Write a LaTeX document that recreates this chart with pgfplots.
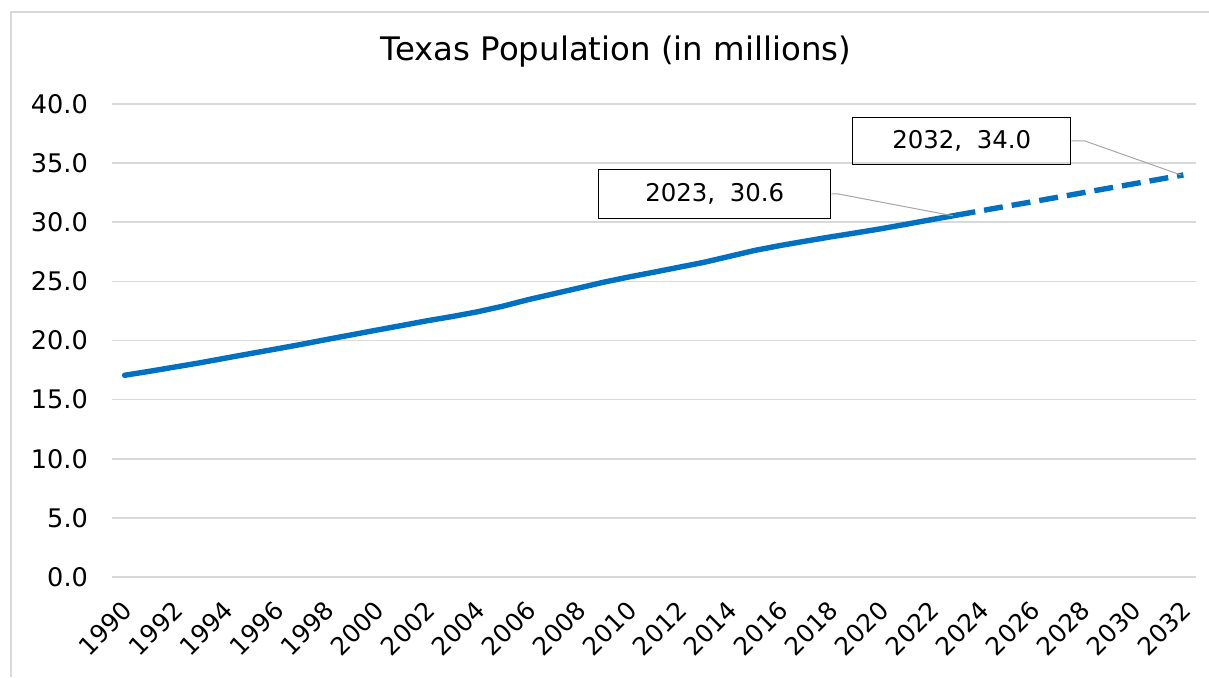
\documentclass[border=0pt]{standalone}
\usepackage{pgfplots}
\pgfplotsset{compat=1.18}
\usepackage{pgfplotstable}
\usepackage{fontspec}
\setmainfont{DejaVu Sans}
\definecolor{texblue}{RGB}{0,112,192}
\definecolor{gridgray}{RGB}{217,217,217}

\pgfplotstableread{
year pop
1990 17.06
1991 17.40
1992 17.76
1993 18.12
1994 18.51
1995 18.90
1996 19.28
1997 19.67
1998 20.08
1999 20.48
2000 20.88
2001 21.27
2002 21.67
2003 22.03
2004 22.43
2005 22.90
2006 23.45
2007 23.94
2008 24.43
2009 24.93
2010 25.37
2011 25.78
2012 26.20
2013 26.62
2014 27.12
2015 27.62
2016 28.03
2017 28.40
2018 28.76
2019 29.10
2020 29.45
2021 29.83
2022 30.22
2023 30.60
}\actual

\pgfplotstableread{
year pop
2023 30.60
2024 30.98
2025 31.36
2026 31.73
2027 32.11
2028 32.49
2029 32.87
2030 33.24
2031 33.62
2032 34.00
}\projected

\begin{document}
\begin{tikzpicture}
\useasboundingbox (0,0) rectangle (604.5pt,338.5pt);
\draw[gridgray, line width=0.8pt] (5.5pt,0) -- (5.5pt,332.5pt) -- (604.5pt,332.5pt);
\begin{axis}[
  at={(56pt,50pt)}, anchor=south west,
  scale only axis,
  width=542pt, height=236.5pt,
  xmin=1989.5, xmax=2032.5,
  ymin=0, ymax=40,
  xtick={1990,1992,...,2032},
  ytick={0,5,...,40},
  axis line style={draw=none},
  tick style={draw=none},
  ymajorgrids,
  major grid style={gridgray, line width=0.8pt},
  /pgf/number format/assume math mode=true,
  xticklabel style={xshift=4pt, yshift=-12pt, rotate=45, anchor=east, font=\fontsize{12.4pt}{14pt}\selectfont},
  yticklabel style={font=\fontsize{12.8pt}{15pt}\selectfont, /pgf/number format/fixed, /pgf/number format/fixed zerofill, /pgf/number format/precision=1, xshift=-8.5pt},
  xticklabel={\pgfmathprintnumber[1000 sep={}]{\tick}},
  clip=false,
]
\addplot[texblue, line width=2.7pt, line cap=round, line join=round] table[x=year, y=pop] {\actual};
\addplot[texblue, line width=2.7pt, dash pattern=on 9.5pt off 4.5pt, line join=round] table[x=year, y=pop] {\projected};
\coordinate (p1) at (axis cs:2022.85,30.55);
\coordinate (p2) at (axis cs:2031.9,34.0);
\end{axis}
\node[font=\fontsize{16.2pt}{19pt}\selectfont] at (308pt,312.5pt) {Texas Population (in millions)};
\node[draw=black, line width=0.7pt, minimum width=116pt, minimum height=24.5pt, anchor=south west, inner sep=0pt, font=\fontsize{12.2pt}{14pt}\selectfont] (b1) at (299pt,229pt) {2023,\hspace{0.6em}30.6};
\node[draw=black, line width=0.7pt, minimum width=109pt, minimum height=23.5pt, anchor=south west, inner sep=0pt, font=\fontsize{12.2pt}{14pt}\selectfont] (b2) at (426pt,256pt) {2032,\hspace{0.6em}34.0};
\draw[gray!70, line width=0.5pt] (b1.east) -- ++(3pt,0) -- (p1);
\draw[gray!70, line width=0.5pt] (b2.east) -- ++(6.5pt,0) -- (p2);
\end{tikzpicture}
\end{document}
